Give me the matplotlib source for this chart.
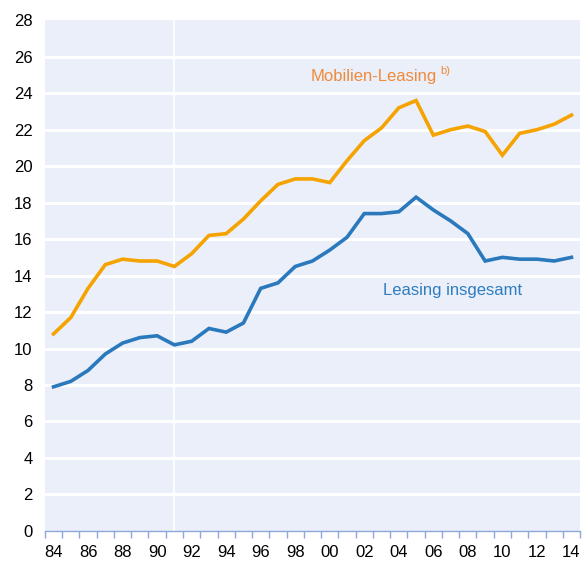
import numpy as np
import matplotlib.pyplot as plt
from matplotlib.ticker import FixedLocator

# Years (two-digit labels, continuous axis 84..114)
years = np.arange(84, 115)
year_labels = [f"{y % 100:02d}" for y in years]

mobilien = [10.8, 11.7, 13.3, 14.6, 14.9, 14.8, 14.8, 14.5, 15.2, 16.2,
            16.3, 17.1, 18.1, 19.0, 19.3, 19.3, 19.1, 20.3, 21.4, 22.1,
            23.2, 23.6, 21.7, 22.0, 22.2, 21.9, 20.6, 21.8, 22.0, 22.3, 22.8]
insgesamt = [7.9, 8.2, 8.8, 9.7, 10.3, 10.6, 10.7, 10.2, 10.4, 11.1,
             10.9, 11.4, 13.3, 13.6, 14.5, 14.8, 15.4, 16.1, 17.4, 17.4,
             17.5, 18.3, 17.6, 17.0, 16.3, 14.8, 15.0, 14.9, 14.9, 14.8, 15.0]

y_ticks = list(range(0, 29, 2))

plt.rcParams['font.family'] = ['Liberation Sans', 'DejaVu Sans']

fig = plt.figure(figsize=(5.83, 5.63), dpi=100)
ax = fig.add_axes([0.077, 0.057, 0.918, 0.907])
ax.set_facecolor('#EBEFFA')

# white horizontal grid + separator at 91
for y in y_ticks[1:-1]:
    ax.axhline(y, color='white', lw=2.2, zorder=1)
ax.axvline(91, color='white', lw=1.2, zorder=1)

ax.plot(years, mobilien, color='#F5A300', lw=2.6, zorder=3, solid_joinstyle='miter')
ax.plot(years, insgesamt, color='#2A79BD', lw=2.6, zorder=3, solid_joinstyle='miter')

ax.text(98.9, 24.9, 'Mobilien-Leasing', color='#EE8A3A', fontsize=12, va='center', ha='left')
ax.text(106.4, 25.2, 'b)', color='#EE8A3A', fontsize=8, va='center', ha='left')
ax.text(103.1, 13.2, 'Leasing insgesamt', color='#2E7DC0', fontsize=12, va='center', ha='left')

ax.set_xlim(83.5, 114.5)
ax.set_ylim(0, 28)

ax.set_xticks(years[::2])
ax.set_xticklabels(year_labels[::2])
ax.xaxis.set_minor_locator(FixedLocator(np.arange(83.5, 115, 1)))
ax.tick_params(axis='x', which='major', length=0, pad=10, labelsize=12)
ax.tick_params(axis='x', which='minor', length=5, color='#8FA8DC', width=1, direction='out')

ax.set_yticks(y_ticks)
ax.tick_params(axis='y', length=0, pad=9, labelsize=12)

for s in ['top', 'right', 'left']:
    ax.spines[s].set_visible(False)
ax.spines['bottom'].set_color('#8FA8DC')
ax.spines['bottom'].set_linewidth(1)

fig.savefig('out.png', dpi=100)
